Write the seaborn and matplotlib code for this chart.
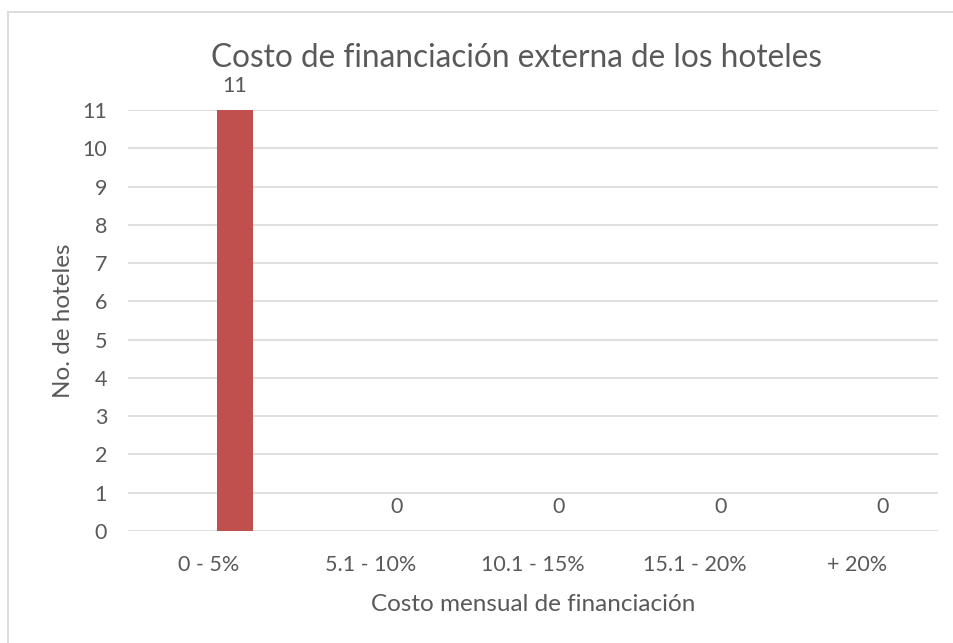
import matplotlib
matplotlib.use("Agg")
import matplotlib.pyplot as plt
import seaborn as sns
import pandas as pd
from matplotlib.patches import Rectangle

categorias = ["0 - 5%", "5.1 - 10%", "10.1 - 15%", "15.1 - 20%", "+ 20%"]
hoteles = [11, 0, 0, 0, 0]
serie_vacia = [0, 0, 0, 0, 0]
ticks_y = list(range(0, 12))

titulo = "Costo de financiación externa de los hoteles"
etiqueta_x = "Costo mensual de financiación"
etiqueta_y = "No. de hoteles"

df = pd.DataFrame({
    "cat": categorias * 2,
    "val": serie_vacia + hoteles,
    "serie": ["vacia"] * len(categorias) + ["hoteles"] * len(categorias),
})

sns.set_theme(style="white")
plt.rcParams["font.family"] = ["Lato", "DejaVu Sans"]
txt = "#595959"

fig = plt.figure(figsize=(9.54, 6.43), dpi=100)
W, H = 954, 643
ax = fig.add_axes([128 / W, 1 - 531 / H, (938 - 128) / W, (531 - 110) / H])

sns.barplot(data=df, x="cat", y="val", hue="serie", hue_order=["vacia", "hoteles"],
            order=categorias, palette=["white", "#C0504D"], saturation=1,
            width=0.64, gap=0.31, linewidth=0, legend=False, ax=ax, zorder=3)

ax.set_ylim(0, 11)
ax.set_yticks(ticks_y)
ax.yaxis.grid(True, color="#D9D9D9", linewidth=1.2, zorder=0)
ax.xaxis.grid(False)
for s in ax.spines.values():
    s.set_visible(False)
ax.tick_params(axis="both", length=0, labelsize=15.5, labelcolor=txt)
ax.tick_params(axis="y", pad=15)
ax.tick_params(axis="x", pad=17)
ax.set_xlabel(etiqueta_x, fontsize=17.5, color=txt, labelpad=14)
ax.set_ylabel(etiqueta_y, fontsize=17.5, color=txt, labelpad=6)

cont = ax.containers[1]
ax.bar_label(cont, labels=[str(v) for v in hoteles], padding=10, fontsize=15.5, color=txt)

fig.text(517 / W, 1 - 58 / H, titulo, ha="center", va="center", fontsize=22.7, color=txt)

fig.patches.append(Rectangle((8 / W, -0.1), 1.2, 1 - 12 / H + 0.1, transform=fig.transFigure,
                             fill=False, edgecolor="#D9D9D9", linewidth=1.3))

fig.savefig("out.png", dpi=100)
